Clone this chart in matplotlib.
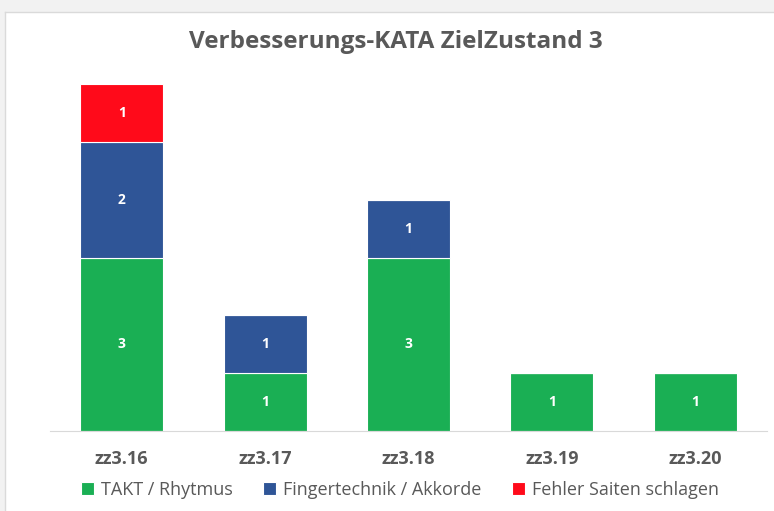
import numpy as np
import matplotlib.pyplot as plt
from matplotlib.patches import Rectangle

categories = ["zz3.16", "zz3.17", "zz3.18", "zz3.19", "zz3.20"]
takt = [3, 1, 3, 1, 1]
finger = [2, 1, 1, 0, 0]
fehler = [1, 0, 0, 0, 0]
series_names = ["TAKT / Rhytmus", "Fingertechnik / Akkorde", "Fehler Saiten schlagen"]
colors = ["#1AAF54", "#2F5597", "#FF0A1A"]

plt.rcParams['font.family'] = ['Open Sans', 'DejaVu Sans']
W, H = 774, 511
fig = plt.figure(figsize=(W / 100, H / 100), dpi=100)

# light grey frame strip on top and left (window shadow)
fig.patches.append(Rectangle((0, 1 - 12 / H), 1, 12 / H, transform=fig.transFigure,
                             facecolor="#F2F2F2", edgecolor="none"))
fig.patches.append(Rectangle((0, 0), 5 / W, 1, transform=fig.transFigure,
                             facecolor="#F2F2F2", edgecolor="none"))
fig.lines.append(plt.Line2D([5 / W, 1], [1 - 12 / H] * 2, transform=fig.transFigure,
                            color="#DADADA", lw=1))
fig.lines.append(plt.Line2D([5 / W] * 2, [0, 1 - 12 / H], transform=fig.transFigure,
                            color="#DADADA", lw=1))

ax = fig.add_axes([50 / W, 80 / H, 717 / W, 374 / H])
x = np.arange(len(categories))
width = 0.58
bottom = np.zeros(len(categories))
handles = []
for vals, col, name in zip([takt, finger, fehler], colors, series_names):
    vals = np.array(vals, dtype=float)
    bars = ax.bar(x, vals, width, bottom=bottom, color=col, edgecolor="white",
                  linewidth=0.8, label=name)
    for xi, v, b in zip(x, vals, bottom):
        if v > 0:
            ax.text(xi, b + v / 2, f"{int(v)}", ha="center", va="center",
                    color="white", fontsize=10, fontweight="bold")
    bottom += vals
    handles.append(bars)

ax.set_xlim(-0.5, len(categories) - 0.5)
ax.set_ylim(0, 6.47)
ax.set_yticks([])
ax.set_xticks(x)
ax.set_xticklabels(categories, fontsize=13, fontweight="bold", color="#595959")
ax.tick_params(axis="x", length=0, pad=14)
for s in ["top", "right", "left"]:
    ax.spines[s].set_visible(False)
ax.spines["bottom"].set_color("#D9D9D9")

fig.text(396 / W, 1 - 42 / H, "Verbesserungs-KATA ZielZustand 3", ha="center",
         va="center", fontsize=17.5, fontweight="bold", color="#595959")

fig.legend(handles=handles, labels=series_names, loc="center",
           bbox_to_anchor=(400 / W, 1 - 490 / H), ncol=3, frameon=False,
           fontsize=13, labelcolor="#595959", handlelength=0.7, handleheight=0.7,
           handletextpad=0.4, columnspacing=1.7)

fig.savefig("out.png", dpi=100)
